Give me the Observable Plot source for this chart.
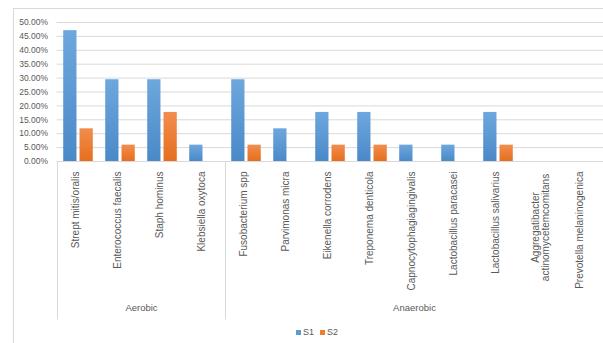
<!DOCTYPE html>
<html>
<head>
<meta charset="utf-8">
<script src="https://cdn.jsdelivr.net/npm/d3@7"></script>
<script src="https://cdn.jsdelivr.net/npm/@observablehq/plot@0.6"></script>
<style>
  body { margin: 0; background: #fff; font-family: "Liberation Sans", Arial, sans-serif; }
  #wrap { position: relative; width: 603px; height: 343px; overflow: hidden; background: #fff; }
  #frame { position: absolute; left: 13px; top: 8px; width: 640px; height: 400px; border: 1px solid #d9d9d9; box-sizing: border-box; }
  #chart { position: absolute; left: 0; top: 0; }
  #legend { position: absolute; left: 296px; top: 327px; font-size: 9px; color: #595959; display: flex; align-items: center; gap: 6px; }
  #legend span.sw { display: inline-block; width: 5px; height: 5px; margin-right: 2px; vertical-align: middle; }
  #legend .item { display: flex; align-items: center; }
</style>
</head>
<body>
<div id="wrap">
  <div id="frame"></div>
  <div id="chart"></div>
  <div id="legend"></div>
</div>
<script>
// ---- data ----
const categories = [
  "Strept mitis/oralis",
  "Enterococcus faecalis",
  "Staph hominus",
  "Klebsiella oxytoca",
  "Fusobacterium spp",
  "Parvimonas micra",
  "Eikenella corrodens",
  "Treponema denticola",
  "Capnocytophagiagingivalis",
  "Lactobacillus paracasei",
  "Lactobacillus salivarius",
  "Aggregatibacter\nactinomycetemcomitans",
  "Prevotella melaninogenica"
];
const groupNames = ["Aerobic", "Anaerobic"];
const groupSizes = [4, 9];
const seriesNames = ["S1", "S2"];
const s1 = [0.4706, 0.2941, 0.2941, 0.0588, 0.2941, 0.1176, 0.1765, 0.1765, 0.0588, 0.0588, 0.1765, 0, 0];
const s2 = [0.1176, 0.0588, 0.1765, 0, 0.0588, 0, 0.0588, 0.0588, 0, 0, 0.0588, 0, 0];
const yTicks = [0, 0.05, 0.10, 0.15, 0.20, 0.25, 0.30, 0.35, 0.40, 0.45, 0.50];

// ---- layout ----
const W = 603, H = 343;
const mL = 56.5, mR = 0, mT = 22, mB = 182;
const step = (W - mL - mR) / categories.length;
const blueFill = "url(#gS1)", orangeFill = "url(#gS2)";
const textColor = "#595959";
const gridColor = "#d9d9d9";

const rows1 = categories.map((c, i) => ({cat: c, v: s1[i]}));
const rows2 = categories.map((c, i) => ({cat: c, v: s2[i]}));
const singleLabels = categories.filter(c => !c.includes("\n"));
const wrappedLabels = categories.filter(c => c.includes("\n"));

// group info computed from sizes
let start = 0;
const groups = groupNames.map((name, gi) => {
  const s = start, e = start + groupSizes[gi] - 1;
  start += groupSizes[gi];
  const mid = (s + e) / 2;
  return {name, first: categories[s], mid: categories[Math.floor(mid)], half: mid % 1 !== 0};
});

// bar geometry within band
const barW = 13.3, gap = 3;
const blueInsetL = step / 2 - gap / 2 - barW;
const blueInsetR = step / 2 + gap / 2;

const plot = Plot.plot({
  width: W,
  height: H,
  marginLeft: mL,
  marginRight: mR,
  marginTop: mT,
  marginBottom: mB,
  style: {fontFamily: "Liberation Sans, Arial, sans-serif", background: "transparent", overflow: "visible"},
  x: {domain: categories, padding: 0, axis: null},
  y: {domain: [0, 0.5], axis: null},
  marks: [
    Plot.ruleY(yTicks, {stroke: gridColor, strokeWidth: 1}),
    Plot.axisY(yTicks, {
      tickSize: 0, tickPadding: 9, fontSize: 8.5, fill: textColor,
      tickFormat: d => (d * 100).toFixed(2) + "%", label: null
    }),
    Plot.barY(rows1, {x: "cat", y: "v", fill: blueFill, insetLeft: blueInsetL, insetRight: blueInsetR}),
    Plot.barY(rows2, {x: "cat", y: "v", fill: orangeFill, insetLeft: blueInsetR, insetRight: blueInsetL}),
    Plot.ruleX(groups, {x: "first", y1: 0, y2: -0.57, dx: -step / 2, stroke: gridColor, strokeWidth: 1}),
    Plot.text(singleLabels, {
      x: d => d, frameAnchor: "bottom", dy: 10, rotate: -90, textAnchor: "end",
      fontSize: 10, fill: textColor
    }),
    Plot.text(wrappedLabels, {
      x: d => d, frameAnchor: "bottom", dy: 66, rotate: -90, textAnchor: "middle", lineAnchor: "middle",
      fontSize: 10, fill: textColor, lineHeight: 1.05
    }),
    Plot.text(groups.filter(g => g.half), {
      x: "mid", text: "name", frameAnchor: "bottom", dy: 149, dx: step / 2, fontSize: 9.5, fill: textColor
    }),
    Plot.text(groups.filter(g => !g.half), {
      x: "mid", text: "name", frameAnchor: "bottom", dy: 149, fontSize: 9.5, fill: textColor
    })
  ]
});

// gradients for bars (Excel style)
const ns = "http://www.w3.org/2000/svg";
const defs = document.createElementNS(ns, "defs");
function grad(id, top, bottom) {
  const g = document.createElementNS(ns, "linearGradient");
  g.setAttribute("id", id);
  g.setAttribute("x1", "0"); g.setAttribute("y1", "0");
  g.setAttribute("x2", "0"); g.setAttribute("y2", "1");
  [[0, top], [1, bottom]].forEach(([o, c]) => {
    const s = document.createElementNS(ns, "stop");
    s.setAttribute("offset", o);
    s.setAttribute("stop-color", c);
    g.appendChild(s);
  });
  defs.appendChild(g);
}
grad("gS1", "#6ea7dd", "#4a89c8");
grad("gS2", "#f28d4e", "#e56f1e");
plot.insertBefore(defs, plot.firstChild);
document.getElementById("chart").appendChild(plot);

// legend
const legendColors = ["#5b9bd5", "#ed7d31"];
const legend = document.getElementById("legend");
seriesNames.forEach((n, i) => {
  const item = document.createElement("div");
  item.className = "item";
  const sw = document.createElement("span");
  sw.className = "sw";
  sw.style.background = legendColors[i];
  item.appendChild(sw);
  item.appendChild(document.createTextNode(n));
  legend.appendChild(item);
});
</script>
</body>
</html>
